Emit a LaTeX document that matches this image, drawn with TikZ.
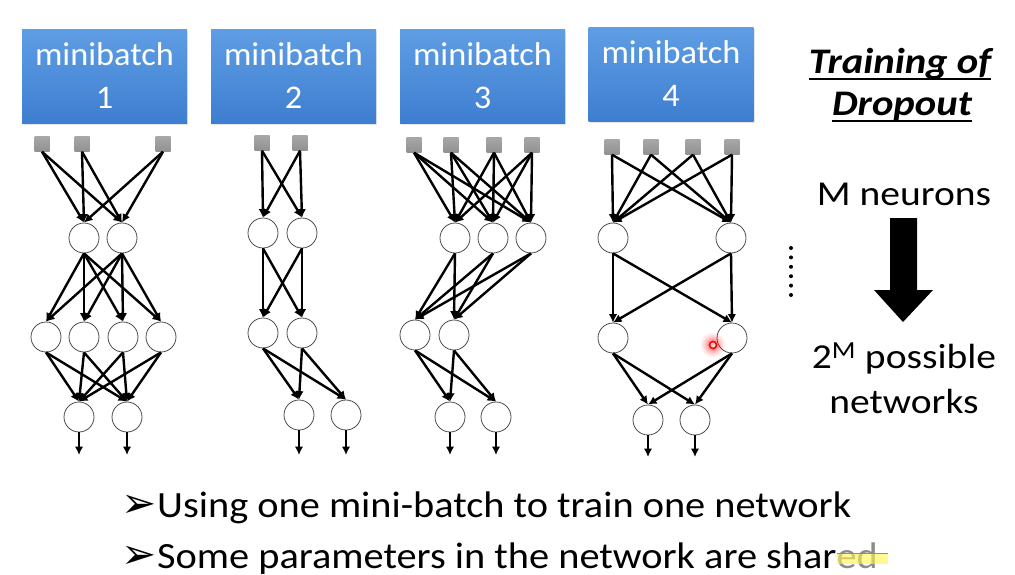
\documentclass[tikz,border=0pt]{standalone}
\usepackage{fontspec}
\setmainfont{Carlito}
\newfontfamily\dejavu{DejaVu Sans}
\newfontfamily\boxfont[FakeStretch=1.04]{Carlito}
\newfontfamily\rightfont[FakeStretch=1.13]{Carlito}
\newfontfamily\bottomfont[FakeStretch=1.09]{Carlito}
\usetikzlibrary{arrows.meta,calc,shadows}
\definecolor{mbtop}{RGB}{95,158,228}
\definecolor{mbbot}{RGB}{62,126,208}
\definecolor{sqgray}{RGB}{145,145,145}
\begin{document}
\begin{tikzpicture}[x=1pt,y=-1pt,
  mb/.style={draw=none, top color=mbtop, bottom color=mbbot, minimum width=165pt, minimum height=94pt, inner sep=0pt, align=center, text=white, font=\fontsize{33}{43}\selectfont\boxfont, drop shadow={opacity=0.2, shadow xshift=1pt, shadow yshift=-2pt}},
  sq/.style={draw=none, top color=sqgray!80, bottom color=sqgray, minimum size=15pt, inner sep=0pt},
  neuron/.style={circle, draw=black!70, line width=0.8pt, fill=white, minimum size=30pt, inner sep=0pt},
  conn/.style={line width=2.4pt, -{Latex[length=8.5pt,width=8.5pt]}},
  big/.style={font=\fontsize{35}{35}\selectfont\rightfont, inner sep=0pt},
  title/.style={font=\fontsize{36}{36}\selectfont\rightfont\bfseries\itshape, inner sep=0pt},
  bottomtxt/.style={font=\fontsize{37}{37}\selectfont\bottomfont, inner sep=0pt},
  bullet/.style={anchor=base east, inner sep=0pt, font=\fontsize{42}{42}\selectfont\dejavu}]
\useasboundingbox (0,0) rectangle (1015,574);
\fill[white] (0,0) rectangle (1015,574);

% boxes
\node[mb] (b1) at (104.5,76) {minibatch\\1};
\node[mb] (b2) at (293.5,76) {minibatch\\2};
\node[mb] (b3) at (482.5,76) {minibatch\\3};
\node[mb] (b4) at (671,74) {minibatch\\4};

% ---------- net 1
\node[sq] (n1s1) at (42,144) {};
\node[sq] (n1s2) at (82,144) {};
\node[sq] (n1s3) at (163,144) {};
\node[neuron] (n1a1) at (84,238) {};
\node[neuron] (n1a2) at (122,238) {};
\node[neuron] (n1b1) at (46,337) {};
\node[neuron] (n1b2) at (84,337) {};
\node[neuron] (n1b3) at (123,337) {};
\node[neuron] (n1b4) at (161,337) {};
\node[neuron] (n1c1) at (79,417) {};
\node[neuron] (n1c2) at (127,417) {};
\coordinate (n1o1) at (79,455);
\coordinate (n1o2) at (127,455);
\foreach \i in {1,2,3} \foreach \j in {1,2} \draw[conn] (n1s\i.south) -- (n1a\j.north);
\foreach \i in {1,2} \foreach \j in {1,2,3,4} \draw[conn] (n1a\i.south) -- (n1b\j.north);
\foreach \i in {1,2,3,4} \foreach \j in {1,2} \draw[conn] (n1b\i.south) -- (n1c\j.north);
\foreach \j in {1,2} \draw[conn] (n1c\j.south) -- (n1o\j);

% ---------- net 2
\node[sq] (n2s1) at (262,143) {};
\node[sq] (n2s2) at (300,143) {};
\node[neuron] (n2a1) at (263,233) {};
\node[neuron] (n2a2) at (302,233) {};
\node[neuron] (n2b1) at (263,333) {};
\node[neuron] (n2b2) at (302,333) {};
\node[neuron] (n2c1) at (299,415) {};
\node[neuron] (n2c2) at (346,415) {};
\coordinate (n2o1) at (299,455);
\coordinate (n2o2) at (346,455);
\foreach \i in {1,2} \foreach \j in {1,2} \draw[conn] (n2s\i.south) -- (n2a\j.north);
\foreach \i in {1,2} \foreach \j in {1,2} \draw[conn] (n2a\i.south) -- (n2b\j.north);
\foreach \i in {1,2} \foreach \j in {1,2} \draw[conn] (n2b\i.south) -- (n2c\j.north);
\foreach \j in {1,2} \draw[conn] (n2c\j.south) -- (n2o\j);

% ---------- net 3
\node[sq] (n3s1) at (414,145) {};
\node[sq] (n3s2) at (451,145) {};
\node[sq] (n3s3) at (494,145) {};
\node[sq] (n3s4) at (532,145) {};
\node[neuron] (n3a1) at (455,238) {};
\node[neuron] (n3a2) at (493,238) {};
\node[neuron] (n3a3) at (531,238) {};
\node[neuron] (n3b1) at (415,335) {};
\node[neuron] (n3b2) at (454,335) {};
\node[neuron] (n3c1) at (450,417) {};
\node[neuron] (n3c2) at (496,417) {};
\coordinate (n3o1) at (450,455);
\coordinate (n3o2) at (496,455);
\foreach \i in {1,2,3,4} \foreach \j in {1,2,3} \draw[conn] (n3s\i.south) -- (n3a\j.north);
\foreach \i in {1,2,3} \foreach \j in {1,2} \draw[conn] (n3a\i.south) -- (n3b\j.north);
\foreach \i in {1,2} \foreach \j in {1,2} \draw[conn] (n3b\i.south) -- (n3c\j.north);
\foreach \j in {1,2} \draw[conn] (n3c\j.south) -- (n3o\j);

% ---------- net 4
\node[sq] (n4s1) at (612,147) {};
\node[sq] (n4s2) at (651,147) {};
\node[sq] (n4s3) at (693,147) {};
\node[sq] (n4s4) at (732,147) {};
\node[neuron] (n4a1) at (613,238) {};
\node[neuron] (n4a2) at (731,238) {};
\node[neuron] (n4b1) at (613,338) {};
\node[neuron] (n4b2) at (732,338) {};
\node[neuron] (n4c1) at (648,420) {};
\node[neuron] (n4c2) at (695,420) {};
\coordinate (n4o1) at (648,457);
\coordinate (n4o2) at (695,457);
\foreach \i in {1,2,3,4} \foreach \j in {1,2} \draw[conn] (n4s\i.south) -- (n4a\j.north);
\foreach \i in {1,2} \foreach \j in {1,2} \draw[conn] (n4a\i.south) -- (n4b\j.north);
\foreach \i in {1,2} \foreach \j in {1,2} \draw[conn] (n4b\i.south) -- (n4c\j.north);
\foreach \j in {1,2} \draw[conn] (n4c\j.south) -- (n4o\j);

% laser pointer dot
\foreach \r/\o in {12/0.07,10/0.09,8/0.12,6/0.16} \fill[red,opacity=\o] (713,345) circle (\r);
\draw[red,line width=1.6pt,fill=red!15] (713,345) circle (3.5);

% vertical dots
\foreach \k in {0,...,5} \fill[black] (791,248+9.4*\k) circle (2);

% right side
\node[title, anchor=base] (t1) at (900,73) {Training of};
\node[title, anchor=base] (t2) at (902,115) {Dropout};
\draw[line width=1.3pt] ($(t1.base west)+(0,6)$) -- ($(t1.base east)+(0,6)$);
\draw[line width=1.3pt] ($(t2.base west)+(0,6)$) -- ($(t2.base east)+(0,6)$);
\node[big, anchor=base] (mn) at (904,205) {M neurons};
\fill[black] (890,218) -- (917,218) -- (917,290) -- (933,290) -- (903,322) -- (874,290) -- (890,290) -- cycle;
\node[big, anchor=base] (pn) at (904,368) {2\textsuperscript{M} possible};
\node[big, anchor=base] (nw) at (904,413) {networks};

% bottom text
\node[bottomtxt, anchor=base west] (l1) at (157,517) {Using one mini-batch to train one network};
\node[bullet] (bu1) at (l1.base west) {➢};
\node[bottomtxt, anchor=base west] (l2) at (157,568) {Some parameters in the network are shar\textcolor{black!45}{ed}};
\node[bullet] (bu2) at (l2.base west) {➢};
\fill[yellow!70!white,opacity=0.6] (837,553) rectangle (888,564);
\draw[black!45,line width=1pt] (837,553) -- (888,553);
\end{tikzpicture}
\end{document}
